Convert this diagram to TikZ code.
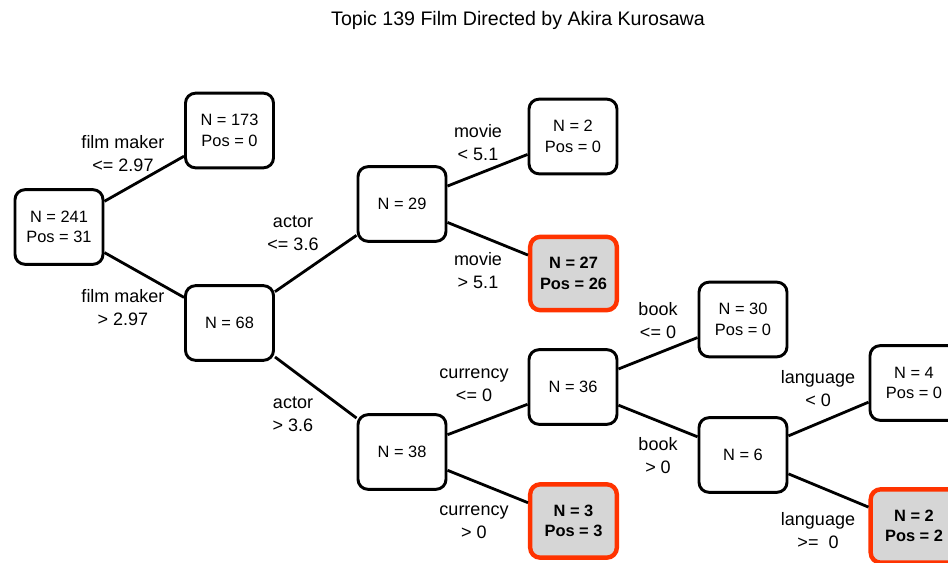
\documentclass[tikz,border=0pt]{standalone}
\usepackage{fontspec}
\setmainfont{Liberation Sans}

\begin{document}
\begin{tikzpicture}[x=0.75pt,y=0.75pt,yscale=-1,
  box/.style={draw, line width=2.2pt, rounded corners=7.5pt, minimum width=66pt, minimum height=56pt, inner sep=0pt, align=center, font=\fontsize{12.3}{15.5}\selectfont},
  hit/.style={box, draw={rgb, 255:red, 255; green, 51; blue, 0 }, fill={rgb, 255:red, 214; green, 214; blue, 214 }, line width=3.3pt, minimum width=65pt, minimum height=55pt, font=\fontsize{12.3}{15.5}\selectfont\bfseries},
  split/.style={align=center, inner sep=0pt, font=\fontsize{13.5}{17.25}\selectfont},
  edge/.style={line width=2.1pt}]
\useasboundingbox (0,0) rectangle (948,563);

% Title
\node (title) at (518,20) [font=\fontsize{14.7}{17}\selectfont] {Topic 139 Film Directed by Akira Kurosawa};

% Boxes
\node [box] (root) at (59,227) {N = 241\\Pos = 31};
\node [box] (fmLow) at (229.5,130.5) {N = 173\\Pos = 0};
\node [box] (fmHigh) at (229.5,323) {N = 68};
\node [box] (actLow) at (402,204) {N = 29};
\node [box] (movLow) at (573,136.5) {N = 2\\Pos = 0};
\node [hit] (movHigh) at (573.5,273.5) {N = 27\\Pos = 26};
\node [box] (actHigh) at (402,452) {N = 38};
\node [box] (curLow) at (573,387) {N = 36};
\node [hit] (curHigh) at (573.5,521) {N = 3\\Pos = 3};
\node [box] (bookLow) at (743,319.5) {N = 30\\Pos = 0};
\node [box] (bookHigh) at (743,455) {N = 6};
\node [box] (langLow) at (914,383) {N = 4\\Pos = 0};
\node [hit] (langHigh) at (914,526) {N = 2\\Pos = 2};

%Straight Lines
\draw [edge] (root) -- (fmLow);
\draw [edge] (root) -- (fmHigh);
\draw [edge] (fmHigh) -- (actLow);
\draw [edge] (fmHigh) -- (actHigh);
\draw [edge] (actLow) -- (movLow);
\draw [edge] (actLow) -- (movHigh);
\draw [edge] (actHigh) -- (curLow);
\draw [edge] (actHigh) -- (curHigh);
\draw [edge] (curLow) -- (bookLow);
\draw [edge] (curLow) -- (bookHigh);
\draw [edge] (bookHigh) -- (langLow);
\draw [edge] (bookHigh) -- (langHigh);

% Text Node
\node [split] (sRootLow) at (123,154) {film maker\\<= 2.97};
\node [split] (sRootHigh) at (123,308) {film maker\\> 2.97};
\node [split] (sActLow) at (293,233) {actor\\<= 3.6};
\node [split] (sActHigh) at (293,414) {actor\\> 3.6};
\node [split] (sMovLow) at (478,143) {movie\\< 5.1};
\node [split] (sMovHigh) at (478,271) {movie\\> 5.1};
\node [split] (sCurLow) at (474,385) {currency\\<= 0};
\node [split] (sCurHigh) at (474,522) {currency\\> 0};
\node [split] (sBookLow) at (658,321) {book\\<= 0};
\node [split] (sBookHigh) at (658,456) {book\\> 0};
\node [split] (sLangLow) at (818,389) {language\\< 0};
\node [split] (sLangHigh) at (818,531) {language\\>=~~0};

\end{tikzpicture}
\end{document}
